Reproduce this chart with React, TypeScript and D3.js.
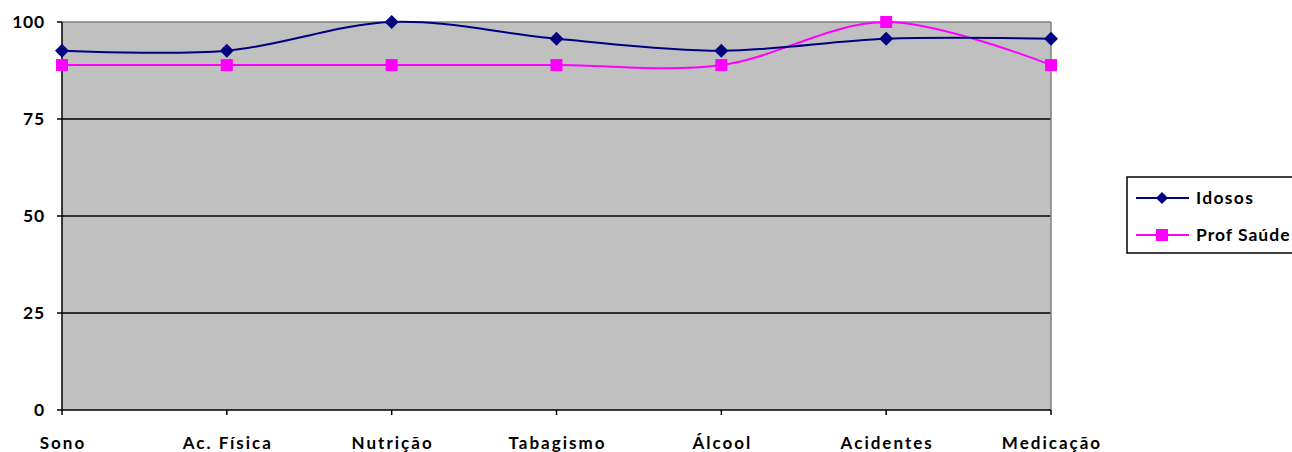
import React from "react";
import * as d3 from "d3";

const categories = ["Sono", "Ac. Física", "Nutrição", "Tabagismo", "Álcool", "Acidentes", "Medicação"];
const idosos = [92.6, 92.6, 100, 95.7, 92.6, 95.7, 95.7];
const profSaude = [88.9, 88.9, 88.9, 88.9, 88.9, 100, 88.9];
const yTicks = [0, 25, 50, 75, 100];

const W = 1292, H = 452;
const left = 62, right = 1051, top = 22, bottom = 410;
const FONT = "Lato, 'Liberation Sans', sans-serif";

export default function App() {
  const x = d3.scalePoint<string>().domain(categories).range([left, right]);
  const y = d3.scaleLinear().domain([0, 100]).range([bottom, top]);
  const line = d3
    .line<number>()
    .x((_, i) => x(categories[i]) as number)
    .y((d) => y(d))
    .curve(d3.curveCardinal.tension(0));
  const diamond = (cx: number, cy: number, r: number) =>
    `M${cx},${cy - r}L${cx + r},${cy}L${cx},${cy + r}L${cx - r},${cy}Z`;

  return (
    <svg width={W} height={H} style={{ position: "absolute", left: 0, top: 0 }} fontFamily={FONT}>
      <rect x={0} y={0} width={W} height={H} fill="#fff" />
      <rect x={left} y={top} width={right - left} height={bottom - top} fill="#C0C0C0" />
      {yTicks.filter((t) => t > 0 && t < 100).map((t) => (
        <line key={t} x1={left} x2={right} y1={y(t)} y2={y(t)} stroke="#000" strokeWidth={1.5} />
      ))}
      <line x1={left} x2={right} y1={top} y2={top} stroke="#808080" strokeWidth={1.5} />
      <line x1={right} x2={right} y1={top} y2={bottom} stroke="#808080" strokeWidth={1.5} />
      <line x1={left} x2={left} y1={top} y2={bottom} stroke="#000" strokeWidth={1.5} />
      <line x1={left} x2={right} y1={bottom} y2={bottom} stroke="#000" strokeWidth={1.5} />
      {yTicks.map((t) => (
        <g key={t}>
          <line x1={left - 5} x2={left} y1={y(t)} y2={y(t)} stroke="#000" strokeWidth={1.5} />
          <text x={45} y={y(t)} dy="0.36em" textAnchor="end" fontSize={17.5} fontWeight="bold" letterSpacing={0.8} fill="#000">
            {t}
          </text>
        </g>
      ))}
      {categories.map((c) => (
        <g key={c}>
          <line x1={x(c)} x2={x(c)} y1={bottom} y2={bottom + 5} stroke="#000" strokeWidth={1.5} />
          <text x={(x(c) as number) + 1} y={443} dy="0.36em" textAnchor="middle" fontSize={17} fontWeight="bold" letterSpacing={2} fill="#000">
            {c}
          </text>
        </g>
      ))}
      <path d={line(profSaude) || ""} fill="none" stroke="#FF00FF" strokeWidth={2} />
      <path d={line(idosos) || ""} fill="none" stroke="#000080" strokeWidth={2} />
      {profSaude.map((v, i) => (
        <rect key={i} x={(x(categories[i]) as number) - 6} y={y(v) - 6} width={12} height={12} fill="#FF00FF" />
      ))}
      {idosos.map((v, i) => (
        <path key={i} d={diamond(x(categories[i]) as number, y(v), 7)} fill="#000080" />
      ))}
      <rect x={1127} y={177} width={175} height={76} fill="#fff" stroke="#000" strokeWidth={1.5} />
      <line x1={1136} x2={1189} y1={198} y2={198} stroke="#000080" strokeWidth={2} />
      <path d={diamond(1162, 198, 6)} fill="#000080" />
      <text x={1196} y={198} dy="0.36em" fontSize={17.5} fontWeight="bold" letterSpacing={1.3}>Idosos</text>
      <line x1={1136} x2={1189} y1={235} y2={235} stroke="#FF00FF" strokeWidth={2} />
      <rect x={1156} y={229} width={12} height={12} fill="#FF00FF" />
      <text x={1196} y={235} dy="0.36em" fontSize={17.5} fontWeight="bold" letterSpacing={1}>Prof Saúde</text>
    </svg>
  );
}
